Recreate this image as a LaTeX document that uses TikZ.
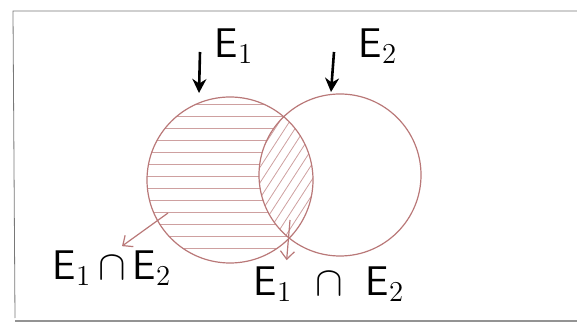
\documentclass[tikz,border=0pt]{standalone}
\usepackage{amsmath, amssymb}
\usepackage{tikz}
\usetikzlibrary{calc, arrows.meta}
\definecolor{pencil}{RGB}{185,120,120}
\definecolor{frame}{RGB}{120,120,120}

\begin{document}
\begin{tikzpicture}[x=0.5pt, y=-0.5pt,
    lbl/.style={font=\huge\sffamily, text=black, inner sep=0pt},
    pen/.style={-{Stealth[length=7pt, width=7pt]}, black, line width=1.3pt},
    thin pen/.style={-{Straight Barb[length=4pt, width=7pt]}, pencil, semithick}]
  \useasboundingbox (0,0) rectangle (577,325);
  % Cadre (feuille)
  \draw[frame, thin] (577,11) -- (13,11) -- (15,318);
  \draw[frame!80, semithick] (15,321) -- (577,321);
  % Hachures : E1 privé de E2 (horizontales)
  \begin{scope}[even odd rule]
    \clip (230,180) circle[radius=83];
    \clip (0,0) rectangle (577,325) (340,175) circle[radius=81];
    \foreach \y in {104,116,...,256}
      \draw[pencil!70, thin] (140,\y) -- (320,\y);
  \end{scope}
  % Hachures : intersection (obliques)
  \begin{scope}
    \clip (230,180) circle[radius=83];
    \clip (340,175) circle[radius=81];
    \foreach \x in {180,190,...,360}
      \draw[pencil!70, thin] (\x,260) -- ++(110,-170);
  \end{scope}
  % Cercles E1 et E2
  \draw[pencil, semithick] (230,180) circle[radius=83];
  \draw[pencil, semithick] (340,175) circle[radius=81];
  % Etiquettes du haut
  \node[lbl] (e1) at (234,46) {E$_1$};
  \node[lbl] (e2) at (378,46) {E$_2$};
  \coordinate (a1) at (200,52);
  \coordinate (t1) at (199,93);
  \coordinate (a2) at (334,52);
  \coordinate (t2) at (331,92);
  \draw[pen] (a1) -- (t1);
  \draw[pen] (a2) -- (t2);
  % Etiquettes du bas
  \node[lbl] (i1) at (112,268) {E$_1\,\cap\,$E$_2$};
  \node[lbl] (i2) at (329,284) {E$_1\;\;\cap\;\;$E$_2$};
  \coordinate (s1) at (168,213);
  \coordinate (s2) at (290,220);
  \draw[thin pen] (s1) -- ($(i1.north)+(10,-4)$);
  \draw[thin pen] (s2) -- ($(i2.north west)!0.22!(i2.north east)+(0,-6)$);
\end{tikzpicture}
\end{document}
